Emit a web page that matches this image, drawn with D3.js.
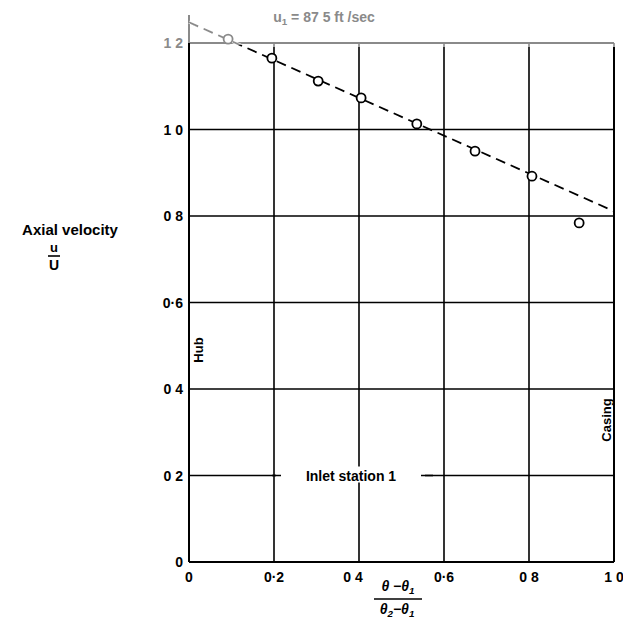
<!DOCTYPE html>
<html><head><meta charset="utf-8">
<script src="https://cdn.jsdelivr.net/npm/d3@7/dist/d3.min.js"></script>
<style>body{margin:0;background:#fff}</style>
</head><body>
<svg id="c" width="623" height="624"></svg>
<script>
const xTicks = [0, 0.2, 0.4, 0.6, 0.8, 1.0];
const xTickLabels = ["0", "0·2", "0 4", "0·6", "0 8", "1 0"];
const yTicks = [0, 0.2, 0.4, 0.6, 0.8, 1.0, 1.2];
const yTickLabels = ["0", "0 2", "0 4", "0·6", "0 8", "1 0", "1 2"];
const pointsX = [0.092, 0.195, 0.304, 0.405, 0.536, 0.673, 0.807, 0.918];
const pointsY = [1.209, 1.165, 1.112, 1.073, 1.013, 0.950, 0.892, 0.784];
const fitX = [0, 1.0];
const fitY = [1.248, 0.811];

const svg = d3.select("#c");
const x = d3.scaleLinear().domain([0, 1]).range([189, 614]);
const y = d3.scaleLinear().domain([0, 1.2]).range([562, 43]);
const font = "'Liberation Sans', Arial, sans-serif";
const grey = "#8a8a8a";

// horizontal gridlines
svg.append("g").selectAll("line").data(yTicks.filter(v => v > 0 && v < 1.2)).join("line")
  .attr("x1", x(0)).attr("x2", x(1)).attr("y1", d => y(d)).attr("y2", d => y(d))
  .attr("stroke", "#000").attr("stroke-width", 1.6);
svg.append("line").attr("x1", x(0)).attr("x2", x(1)).attr("y1", y(1.2)).attr("y2", y(1.2))
  .attr("stroke", grey).attr("stroke-width", 2);
// vertical gridlines
svg.append("g").selectAll("line").data(xTicks.filter(v => v > 0)).join("line")
  .attr("x1", d => x(d)).attr("x2", d => x(d)).attr("y1", y(1.2) + 4).attr("y2", y(0))
  .attr("stroke", "#000").attr("stroke-width", d => d === 1 ? 2 : 1.6);
svg.append("g").selectAll("line").data(xTicks.filter(v => v > 0)).join("line")
  .attr("x1", d => x(d)).attr("x2", d => x(d)).attr("y1", y(1.2)).attr("y2", y(1.2) + 4)
  .attr("stroke", grey).attr("stroke-width", 1.6);
svg.append("line").attr("x1", x(0)).attr("x2", x(1)).attr("y1", y(0)).attr("y2", y(0))
  .attr("stroke", "#000").attr("stroke-width", 1.8);
svg.append("line").attr("x1", x(0)).attr("x2", x(0)).attr("y1", 15).attr("y2", y(1.2))
  .attr("stroke", grey).attr("stroke-width", 2);
svg.append("line").attr("x1", x(0)).attr("x2", x(0)).attr("y1", y(1.2)).attr("y2", y(0))
  .attr("stroke", "#000").attr("stroke-width", 2);

// Inlet station label
const inlet = svg.append("g");
inlet.append("rect").attr("x", 281).attr("y", y(0.2) - 9).attr("width", 140).attr("height", 16).attr("fill", "#fff");
inlet.append("text").attr("x", 351).attr("y", y(0.2) + 5).attr("text-anchor", "middle")
  .attr("font-family", font).attr("font-weight", "bold").attr("font-size", 14).text("Inlet station 1");
inlet.append("line").attr("x1", 272).attr("x2", 276).attr("y1", y(0.2)).attr("y2", y(0.2)).attr("stroke", "#000").attr("stroke-width", 1.6);
inlet.append("line").attr("x1", 425).attr("x2", 433).attr("y1", y(0.2)).attr("y2", y(0.2)).attr("stroke", "#000").attr("stroke-width", 1.6);

// tick labels
svg.append("g").selectAll("text").data(yTicks).join("text")
  .attr("x", x(0) - 6).attr("y", d => y(d) + 5).attr("text-anchor", "end")
  .attr("font-family", font).attr("font-weight", "bold").attr("font-size", 14)
  .attr("fill", d => d === 1.2 ? grey : "#000")
  .text((d, i) => yTickLabels[i]);
svg.append("g").selectAll("text").data(xTicks).join("text")
  .attr("x", (d, i) => x(d) + (i === 2 ? -6 : 0)).attr("y", y(0) + 20).attr("text-anchor", "middle")
  .attr("font-family", font).attr("font-weight", "bold").attr("font-size", 14)
  .text((d, i) => xTickLabels[i]);

// dashed fit line
const line = d3.line().x((d, i) => x(fitX[i])).y((d, i) => y(fitY[i]));
const clipY = y(1.2);
svg.append("path").datum(fitX).attr("d", line).attr("fill", "none")
  .attr("stroke", "#000").attr("stroke-width", 1.8).attr("stroke-dasharray", "10,6");
svg.append("clipPath").attr("id", "top").append("rect").attr("x", 0).attr("y", 0).attr("width", 623).attr("height", clipY + 2);
svg.append("path").datum(fitX).attr("d", line).attr("fill", "none").attr("clip-path", "url(#top)")
  .attr("stroke", "#fff").attr("stroke-width", 3);
svg.append("path").datum(fitX).attr("d", line).attr("fill", "none").attr("clip-path", "url(#top)")
  .attr("stroke", grey).attr("stroke-width", 1.8).attr("stroke-dasharray", "10,6");

// points
svg.append("g").selectAll("circle").data(pointsX).join("circle")
  .attr("cx", d => x(d)).attr("cy", (d, i) => y(pointsY[i])).attr("r", 4.5)
  .attr("fill", "#fff").attr("stroke", (d, i) => pointsY[i] > 1.19 ? grey : "#000").attr("stroke-width", 1.8);

// helper for text with subscripts: parts = [[text, isSub], ...]
function richText(g, parts, size) {
  parts.forEach(([t, sub]) => {
    g.append("tspan").attr("font-size", sub ? size * 0.7 : size)
      .attr("baseline-shift", sub ? "-30%" : null).text(t);
  });
}

// title
const tt = svg.append("text").attr("x", 324).attr("y", 22).attr("text-anchor", "middle")
  .attr("font-family", font).attr("font-weight", "bold").attr("fill", grey).attr("font-size", 14);
richText(tt, [["u", false], ["1", true], [" = 87 5 ft /sec", false]], 14);

// y axis label
svg.append("text").attr("x", 70).attr("y", 235).attr("text-anchor", "middle")
  .attr("font-family", font).attr("font-weight", "bold").attr("font-size", 15).text("Axial velocity");
svg.append("text").attr("x", 54).attr("y", 252).attr("text-anchor", "middle")
  .attr("font-family", font).attr("font-weight", "bold").attr("font-size", 13).text("u");
svg.append("line").attr("x1", 48).attr("x2", 60).attr("y1", 256).attr("y2", 256).attr("stroke", "#000").attr("stroke-width", 1.6);
svg.append("text").attr("x", 54).attr("y", 270).attr("text-anchor", "middle")
  .attr("font-family", font).attr("font-weight", "bold").attr("font-size", 14).text("U");

// x axis label
const num = svg.append("text").attr("x", 398).attr("y", 591).attr("text-anchor", "middle")
  .attr("font-family", font).attr("font-weight", "bold").attr("font-style", "italic").attr("font-size", 14);
richText(num, [["θ −θ", false], ["1", true]], 14);
svg.append("line").attr("x1", 374).attr("x2", 422).attr("y1", 599).attr("y2", 599).attr("stroke", "#000").attr("stroke-width", 1.4);
const den = svg.append("text").attr("x", 397).attr("y", 614).attr("text-anchor", "middle")
  .attr("font-family", font).attr("font-weight", "bold").attr("font-style", "italic").attr("font-size", 14);
richText(den, [["θ", false], ["2", true], ["−θ", false], ["1", true]], 14);

// Hub and Casing
svg.append("text").attr("transform", `translate(203,350) rotate(-90)`).attr("text-anchor", "middle")
  .attr("font-family", font).attr("font-weight", "bold").attr("font-size", 13).text("Hub");
svg.append("text").attr("transform", `translate(611,420) rotate(-90)`).attr("text-anchor", "middle")
  .attr("font-family", font).attr("font-weight", "bold").attr("font-size", 13).text("Casing");
</script>
</body></html>
